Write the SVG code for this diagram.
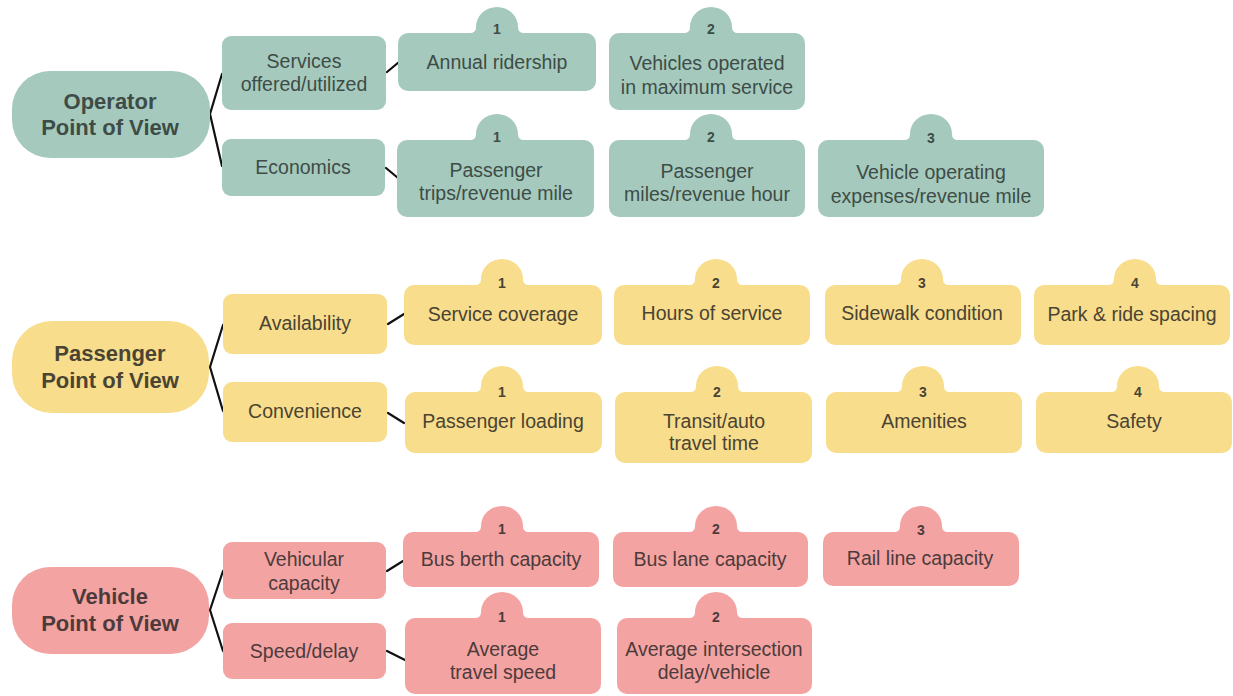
<svg xmlns="http://www.w3.org/2000/svg" width="1233" height="696" viewBox="0 0 1233 696">
<style>
.t{fill:#a5cabd}.y{fill:#f8dd8c}.p{fill:#f4a3a3}
text{font-family:"Liberation Sans",Arial,sans-serif;text-anchor:middle}
.tt{fill:#3e4c47}.yt{fill:#4a4433}.pt{fill:#4d3b3b}
.lb{font-size:19.5px}
.rt{font-size:22px;font-weight:bold}
.n{font-size:14px;font-weight:bold}
.c{stroke:#111;stroke-width:2.2;fill:none;stroke-linecap:round;stroke-linejoin:round}
</style>
<rect width="1233" height="696" fill="#fff"/>
<g id="connectors">
<path class="c" d="M222,74 L210,114 L222,166"/>
<path class="c" d="M387,72 L399,62"/>
<path class="c" d="M386,168 L398,178"/>
<path class="c" d="M223,325 L210,367 L223,411"/>
<path class="c" d="M388,324 L404,314"/>
<path class="c" d="M388,413 L404,423"/>
<path class="c" d="M223,571 L210,610 L223,651"/>
<path class="c" d="M387,571 L403,561"/>
<path class="c" d="M387,651 L405,660"/>
</g>
<!-- Operator -->
<g id="operator" class="tt">
<rect class="t" x="12" y="71" width="198" height="87" rx="38"/>
<text class="rt" x="110" y="109">Operator</text>
<text class="rt" x="110" y="135">Point of View</text>
</g>
<g id="services" class="tt">
<rect class="t" x="222" y="36" width="164" height="74" rx="9"/>
<text class="lb" x="304" y="68">Services</text>
<text class="lb" x="304" y="91">offered/utilized</text>
</g>
<g id="economics" class="tt">
<rect class="t" x="222" y="139" width="163" height="57" rx="9"/>
<text class="lb" x="303" y="174">Economics</text>
</g>
<g id="annual-ridership" class="tt">
<rect class="t" x="398" y="33" width="198" height="58" rx="10"/>
<path class="t" d="M470,33 Q476,33 476,27 A21 20 0 0 1 518,27 Q518,33 524,33 Z"/>
<text class="n" x="497" y="34">1</text>
<text class="lb" x="497" y="69">Annual ridership</text>
</g>
<g id="vehicles-operated" class="tt">
<rect class="t" x="609" y="33" width="196" height="77" rx="10"/>
<path class="t" d="M684,33 Q690,33 690,27 A21 20 0 0 1 732,27 Q732,33 738,33 Z"/>
<text class="n" x="711" y="34">2</text>
<text class="lb" x="707" y="70">Vehicles operated</text>
<text class="lb" x="707" y="94">in maximum service</text>
</g>
<g id="passenger-trips" class="tt">
<rect class="t" x="397" y="140" width="197" height="77" rx="10"/>
<path class="t" d="M470,140 Q476,140 476,134 A21 20 0 0 1 518,134 Q518,140 524,140 Z"/>
<text class="n" x="497" y="142">1</text>
<text class="lb" x="496" y="177">Passenger</text>
<text class="lb" x="496" y="200">trips/revenue mile</text>
</g>
<g id="passenger-miles" class="tt">
<rect class="t" x="609" y="140" width="196" height="77" rx="10"/>
<path class="t" d="M684,140 Q690,140 690,134 A21 20 0 0 1 732,134 Q732,140 738,140 Z"/>
<text class="n" x="711" y="142">2</text>
<text class="lb" x="707" y="178">Passenger</text>
<text class="lb" x="707" y="201">miles/revenue hour</text>
</g>
<g id="vehicle-operating" class="tt">
<rect class="t" x="818" y="140" width="226" height="77" rx="10"/>
<path class="t" d="M904,140 Q910,140 910,134 A21 20 0 0 1 952,134 Q952,140 958,140 Z"/>
<text class="n" x="931" y="143">3</text>
<text class="lb" x="931" y="179">Vehicle operating</text>
<text class="lb" x="931" y="203">expenses/revenue mile</text>
</g>
<!-- Passenger -->
<g id="passenger" class="yt">
<rect class="y" x="12" y="321" width="197" height="92" rx="40"/>
<text class="rt" x="110" y="361">Passenger</text>
<text class="rt" x="110" y="388">Point of View</text>
</g>
<g id="availability" class="yt">
<rect class="y" x="223" y="294" width="164" height="60" rx="9"/>
<text class="lb" x="305" y="330">Availability</text>
</g>
<g id="convenience" class="yt">
<rect class="y" x="223" y="382" width="164" height="60" rx="9"/>
<text class="lb" x="305" y="418">Convenience</text>
</g>
<g id="service-coverage" class="yt">
<rect class="y" x="404" y="285" width="198" height="60" rx="10"/>
<path class="y" d="M475,285 Q481,285 481,279 A21 20 0 0 1 523,279 Q523,285 529,285 Z"/>
<text class="n" x="502" y="288">1</text>
<text class="lb" x="503" y="321">Service coverage</text>
</g>
<g id="hours-of-service" class="yt">
<rect class="y" x="614" y="285" width="196" height="60" rx="10"/>
<path class="y" d="M689,285 Q695,285 695,279 A21 20 0 0 1 737,279 Q737,285 743,285 Z"/>
<text class="n" x="716" y="288">2</text>
<text class="lb" x="712" y="320">Hours of service</text>
</g>
<g id="sidewalk-condition" class="yt">
<rect class="y" x="825" y="285" width="196" height="60" rx="10"/>
<path class="y" d="M895,285 Q901,285 901,279 A21 20 0 0 1 943,279 Q943,285 949,285 Z"/>
<text class="n" x="922" y="288">3</text>
<text class="lb" x="922" y="320">Sidewalk condition</text>
</g>
<g id="park-ride-spacing" class="yt">
<rect class="y" x="1034" y="285" width="196" height="60" rx="10"/>
<path class="y" d="M1108,285 Q1114,285 1114,279 A21 20 0 0 1 1156,279 Q1156,285 1162,285 Z"/>
<text class="n" x="1135" y="288">4</text>
<text class="lb" x="1132" y="321">Park &amp; ride spacing</text>
</g>
<g id="passenger-loading" class="yt">
<rect class="y" x="405" y="392" width="197" height="61" rx="10"/>
<path class="y" d="M475,392 Q481,392 481,386 A21 20 0 0 1 523,386 Q523,392 529,392 Z"/>
<text class="n" x="502" y="397">1</text>
<text class="lb" x="503" y="428">Passenger loading</text>
</g>
<g id="transit-auto" class="yt">
<rect class="y" x="615" y="392" width="197" height="71" rx="10"/>
<path class="y" d="M690,392 Q696,392 696,386 A21 20 0 0 1 738,386 Q738,392 744,392 Z"/>
<text class="n" x="717" y="397">2</text>
<text class="lb" x="714" y="428">Transit/auto</text>
<text class="lb" x="714" y="450">travel time</text>
</g>
<g id="amenities" class="yt">
<rect class="y" x="826" y="392" width="196" height="61" rx="10"/>
<path class="y" d="M896,392 Q902,392 902,386 A21 20 0 0 1 944,386 Q944,392 950,392 Z"/>
<text class="n" x="923" y="397">3</text>
<text class="lb" x="924" y="428">Amenities</text>
</g>
<g id="safety" class="yt">
<rect class="y" x="1036" y="392" width="196" height="61" rx="10"/>
<path class="y" d="M1111,392 Q1117,392 1117,386 A21 20 0 0 1 1159,386 Q1159,392 1165,392 Z"/>
<text class="n" x="1138" y="397">4</text>
<text class="lb" x="1134" y="428">Safety</text>
</g>
<!-- Vehicle -->
<g id="vehicle" class="pt">
<rect class="p" x="12" y="567" width="197" height="87" rx="38"/>
<text class="rt" x="110" y="604">Vehicle</text>
<text class="rt" x="110" y="631">Point of View</text>
</g>
<g id="vehicular-capacity" class="pt">
<rect class="p" x="223" y="542" width="163" height="57" rx="9"/>
<text class="lb" x="304" y="566">Vehicular</text>
<text class="lb" x="304" y="590">capacity</text>
</g>
<g id="speed-delay" class="pt">
<rect class="p" x="223" y="623" width="163" height="56" rx="9"/>
<text class="lb" x="304" y="658">Speed/delay</text>
</g>
<g id="bus-berth" class="pt">
<rect class="p" x="403" y="532" width="196" height="55" rx="10"/>
<path class="p" d="M475,532 Q481,532 481,526 A21 20 0 0 1 523,526 Q523,532 529,532 Z"/>
<text class="n" x="502" y="534">1</text>
<text class="lb" x="501" y="566">Bus berth capacity</text>
</g>
<g id="bus-lane" class="pt">
<rect class="p" x="613" y="532" width="195" height="55" rx="10"/>
<path class="p" d="M689,532 Q695,532 695,526 A21 20 0 0 1 737,526 Q737,532 743,532 Z"/>
<text class="n" x="716" y="534">2</text>
<text class="lb" x="710" y="566">Bus lane capacity</text>
</g>
<g id="rail-line" class="pt">
<rect class="p" x="823" y="532" width="196" height="54" rx="10"/>
<path class="p" d="M894,532 Q900,532 900,526 A21 20 0 0 1 942,526 Q942,532 948,532 Z"/>
<text class="n" x="921" y="535">3</text>
<text class="lb" x="920" y="565">Rail line capacity</text>
</g>
<g id="average-travel-speed" class="pt">
<rect class="p" x="405" y="618" width="196" height="76" rx="10"/>
<path class="p" d="M475,618 Q481,618 481,612 A21 20 0 0 1 523,612 Q523,618 529,618 Z"/>
<text class="n" x="502" y="622">1</text>
<text class="lb" x="503" y="656">Average</text>
<text class="lb" x="503" y="679">travel speed</text>
</g>
<g id="average-intersection-delay" class="pt">
<rect class="p" x="617" y="618" width="195" height="76" rx="10"/>
<path class="p" d="M689,618 Q695,618 695,612 A21 20 0 0 1 737,612 Q737,618 743,618 Z"/>
<text class="n" x="716" y="622">2</text>
<text class="lb" x="714" y="656">Average intersection</text>
<text class="lb" x="714" y="679">delay/vehicle</text>
</g>
</svg>
